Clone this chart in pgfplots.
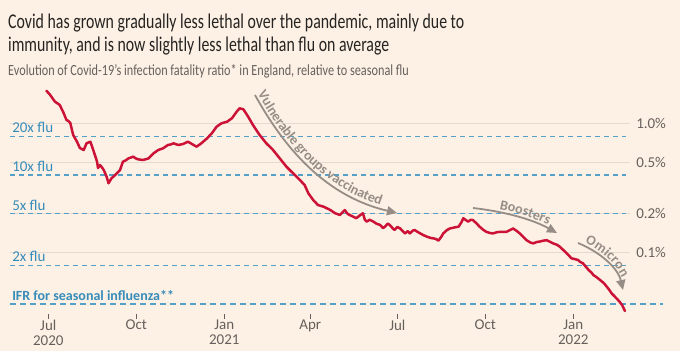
\documentclass[border=0pt]{standalone}
\usepackage{fontspec}
\setmainfont{Carlito}
\usepackage{pgfplots}
\pgfplotsset{compat=1.18}
\usetikzlibrary{arrows.meta,decorations.text}
\newfontfamily\titlefont[FakeStretch=0.755]{Carlito}
\newfontfamily\subfont[FakeStretch=0.79]{Carlito}
\newfontfamily\ftfont{Carlito}
\definecolor{bg}{RGB}{253,241,229}
\definecolor{ftred}{RGB}{204,18,54}
\definecolor{ftblue}{RGB}{85,160,200}
\definecolor{labblue}{RGB}{55,140,185}
\definecolor{gridc}{RGB}{228,218,208}
\definecolor{txtgrey}{RGB}{102,96,92}
\definecolor{arrgrey}{RGB}{150,142,134}
\definecolor{titlec}{RGB}{38,36,34}

\pgfplotstableread{
day ifr
-2 1.80
2 1.668
5 1.55
7 1.48
10 1.43
12 1.395
14 1.30
16 1.21
19 1.068
21 1.05
23 1.012
26 0.817
30 0.725
33 0.648
37 0.625
40 0.704
44 0.725
47 0.625
51 0.507
52 0.453
54 0.478
56 0.46
58 0.437
61 0.388
63 0.345
66 0.377
70 0.400
75 0.437
78 0.507
81 0.52
84 0.539
89 0.555
91 0.54
94 0.529
99 0.523
102 0.53
105 0.539
110 0.589
115 0.625
120 0.644
125 0.683
128 0.69
131 0.704
136 0.683
141 0.696
146 0.725
152 0.683
155 0.663
160 0.704
166 0.770
171 0.842
176 0.947
181 1.006
187 1.036
192 1.100
197 1.238
200 1.316
204 1.292
209 1.132
214 0.977
221 0.817
228 0.704
235 0.625
242 0.539
249 0.464
256 0.412
263 0.366
268 0.335
272 0.288
277 0.256
282 0.234
288 0.227
295 0.214
300 0.202
305 0.196
310 0.214
313 0.20
315 0.196
319 0.19
322 0.185
326 0.195
329 0.202
331 0.18
333 0.174
336 0.18
340 0.174
343 0.168
347 0.164
350 0.155
352 0.159
355 0.168
357 0.164
360 0.155
362 0.150
365 0.158
368 0.154
371 0.146
373 0.141
376 0.147
378 0.141
381 0.148
383 0.150
386 0.145
389 0.141
392 0.137
396 0.133
400 0.130
403 0.129
406 0.127
408 0.124
411 0.133
413 0.141
417 0.150
420 0.154
425 0.157
429 0.159
432 0.172
434 0.185
437 0.178
439 0.174
442 0.180
444 0.179
448 0.168
451 0.159
455 0.150
458 0.145
462 0.142
465 0.141
469 0.144
472 0.145
476 0.145
479 0.145
483 0.150
486 0.154
490 0.147
493 0.141
497 0.132
500 0.125
504 0.120
507 0.118
511 0.121
514 0.122
518 0.124
521 0.125
525 0.121
528 0.118
532 0.115
535 0.111
539 0.104
542 0.0989
545 0.094
547 0.0904
551 0.089
554 0.0877
556 0.085
559 0.0827
562 0.078
565 0.0734
568 0.070
570 0.0671
574 0.064
577 0.0614
581 0.058
584 0.0545
587 0.051
589 0.0484
592 0.046
594 0.0443
597 0.042
600 0.0393
603 0.0353
}\ifrdata

\begin{document}
\begin{tikzpicture}
\fill[bg] (0,0) rectangle (680pt,-351pt);
\useasboundingbox (0,0) rectangle (680pt,-351pt);
\node[anchor=base west, inner sep=0, text=titlec, font=\titlefont\fontsize{21}{23}\selectfont] at (8pt,-28.3pt) {Covid has grown gradually less lethal over the pandemic, mainly due to};
\node[anchor=base west, inner sep=0, text=titlec, font=\titlefont\fontsize{21}{23}\selectfont] at (8pt,-51.7pt) {immunity, and is now slightly less lethal than flu on average};
\node[anchor=base west, inner sep=0, text=txtgrey, font=\subfont\fontsize{15.5}{17}\selectfont] at (8pt,-75pt) {Evolution of Covid-19’s infection fatality ratio* in England, relative to seasonal flu};

\begin{axis}[
  at={(10pt,-318.5pt)}, anchor=south west, scale only axis,
  width=660pt, height=233.5pt,
  xmin=-40.05, xmax=650.1, ymode=log, ymin=0.03088, ymax=1.994,
  axis line style={draw=none}, ytick=\empty,
  xtick={0,92,184,274,365,457,549},
  xticklabels={{Jul\\2020},{Oct},{Jan\\2021},{Apr},{Jul},{Oct},{Jan\\2022}},
  xtick pos=left, tick align=inside, major tick length=5pt,
  tick style={draw=txtgrey, line width=0.7pt},
  xticklabel style={align=center, text=txtgrey, font=\ftfont\fontsize{15}{15}\selectfont, inner sep=1pt},
  clip=false,
]
% solid gridlines
\addplot[gridc, line width=1pt] coordinates {(-40.05,1) (608.3,1)};
\addplot[gridc, line width=1pt] coordinates {(-40.05,0.5) (608.3,0.5)};
\addplot[gridc, line width=1pt] coordinates {(-40.05,0.2) (608.3,0.2)};
\addplot[gridc, line width=1pt] coordinates {(-40.05,0.1) (608.3,0.1)};
% dashed flu multiples
\addplot[ftblue, line width=1.1pt, dash pattern=on 5pt off 4pt] coordinates {(-40.05,0.8) (604.6,0.8)};
\addplot[ftblue, line width=1.1pt, dash pattern=on 5pt off 4pt] coordinates {(-40.05,0.4) (604.6,0.4)};
\addplot[ftblue, line width=1.1pt, dash pattern=on 5pt off 4pt] coordinates {(-40.05,0.2) (604.6,0.2)};
\addplot[ftblue, line width=1.1pt, dash pattern=on 5pt off 4pt] coordinates {(-40.05,0.08) (604.6,0.08)};
\addplot[ftblue, line width=2.2pt, dash pattern=on 6pt off 4pt] coordinates {(-40.05,0.04) (643,0.04)};
% labels
\node[anchor=base west, inner sep=0, text=labblue, font=\ftfont\fontsize{15}{15}\selectfont, yshift=3.5pt] at (axis cs:-37.9,0.8) {20x flu};
\node[anchor=base west, inner sep=0, text=labblue, font=\ftfont\fontsize{15}{15}\selectfont, yshift=3.5pt] at (axis cs:-37.9,0.4) {10x flu};
\node[anchor=base west, inner sep=0, text=labblue, font=\ftfont\fontsize{15}{15}\selectfont, yshift=3.5pt] at (axis cs:-37.9,0.2) {5x flu};
\node[anchor=base west, inner sep=0, text=labblue, font=\ftfont\fontsize{15}{15}\selectfont, yshift=3.5pt] at (axis cs:-37.9,0.08) {2x flu};
\node[anchor=base west, inner sep=0, text=labblue, font=\ftfont\bfseries\fontsize{14}{14}\selectfont, yshift=3.5pt] at (axis cs:-37.9,0.04) {IFR for seasonal influenza**};
\node[anchor=west, inner sep=0, text=txtgrey, font=\ftfont\fontsize{15}{15}\selectfont] at (axis cs:614.6,1) {1.0\%};
\node[anchor=west, inner sep=0, text=txtgrey, font=\ftfont\fontsize{15}{15}\selectfont] at (axis cs:614.6,0.5) {0.5\%};
\node[anchor=west, inner sep=0, text=txtgrey, font=\ftfont\fontsize{15}{15}\selectfont] at (axis cs:614.6,0.2) {0.2\%};
\node[anchor=west, inner sep=0, text=txtgrey, font=\ftfont\fontsize{15}{15}\selectfont] at (axis cs:614.6,0.1) {0.1\%};
% data
\addplot[ftred, line width=2.5pt, line join=round, line cap=round] table[x=day, y=ifr] {\ifrdata};
\end{axis}

% annotations
\draw[arrgrey, line width=1.8pt, -{Triangle[length=10pt,width=9pt]}] (255pt,-95pt) .. controls (280pt,-140pt) and (320pt,-195pt) .. (397pt,-213pt);
\draw[arrgrey, line width=1.8pt, -{Triangle[length=10pt,width=9pt]}] (473pt,-208pt) .. controls (500pt,-211pt) and (530pt,-218pt) .. (557pt,-233pt);
\draw[arrgrey, line width=1.8pt, -{Triangle[length=10pt,width=9pt]}] (578pt,-243pt) .. controls (600pt,-252pt) and (618pt,-268pt) .. (623pt,-290pt);

\begingroup
\ftfont\bfseries\fontsize{14}{14}\selectfont
\path[decorate, decoration={text along path, raise=3pt, text color=arrgrey, text={Vulnerable groups vaccinated}}] (255pt,-95pt) .. controls (280pt,-140pt) and (320pt,-195pt) .. (397pt,-213pt);
\path[decorate, decoration={text along path, raise=3pt, text color=arrgrey, text align={left indent=26pt}, text={Boosters}}] (473pt,-208pt) .. controls (500pt,-211pt) and (530pt,-218pt) .. (557pt,-233pt);
\path[decorate, decoration={text along path, raise=3pt, text color=arrgrey, text align={left indent=6pt}, text={Omicron}}] (578pt,-243pt) .. controls (600pt,-252pt) and (618pt,-268pt) .. (623pt,-290pt);
\endgroup
\end{tikzpicture}
\end{document}
